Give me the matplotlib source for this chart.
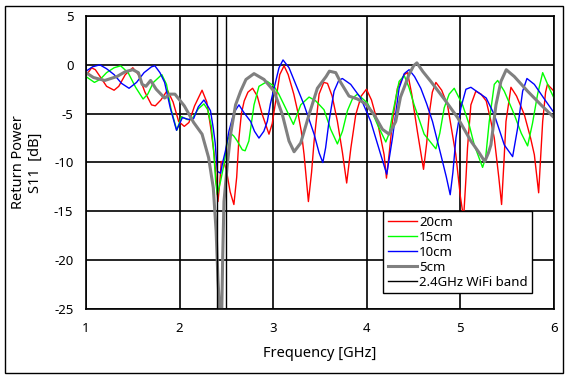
import matplotlib
matplotlib.use("Agg")
import matplotlib.pyplot as plt
from matplotlib.patches import Rectangle

plt.rcParams['font.family'] = ['Noto Sans', 'DejaVu Sans']

f_20 = [1.00, 1.06, 1.10, 1.15, 1.22, 1.30, 1.35, 1.42, 1.50, 1.56, 1.63, 1.70, 1.74, 1.80, 1.87, 1.93,
        1.99, 2.05, 2.10, 2.16, 2.24, 2.29, 2.33, 2.37, 2.395, 2.41, 2.43, 2.445, 2.47, 2.50, 2.54, 2.58,
        2.61, 2.634, 2.66, 2.69, 2.73, 2.78, 2.83, 2.88, 2.955, 2.99, 3.03, 3.07, 3.116, 3.16, 3.22, 3.26,
        3.30, 3.33, 3.376, 3.41, 3.437, 3.49, 3.54, 3.58, 3.63, 3.686, 3.74, 3.785, 3.83, 3.882, 3.94, 3.996,
        4.05, 4.113, 4.185, 4.21, 4.24, 4.274, 4.327, 4.40, 4.435, 4.48, 4.54, 4.606, 4.64, 4.666, 4.70, 4.738,
        4.80, 4.862, 4.951, 5.00, 5.034, 5.06, 5.076, 5.112, 5.165, 5.22, 5.276, 5.32, 5.362, 5.41, 5.44, 5.465,
        5.487, 5.54, 5.60, 5.683, 5.75, 5.79, 5.836, 5.86, 5.879, 5.91, 5.93, 6.00]
s_20 = [-1.1, -0.3, -0.5, -1.2, -2.2, -2.6, -2.2, -1.0, -0.3, -1.0, -2.8, -4.1, -4.2, -3.6, -2.6, -3.8,
        -5.8, -6.3, -5.9, -4.2, -2.6, -3.8, -6.3, -9.2, -12.3, -14.0, -12.0, -9.9, -9.9, -10.8, -13.0, -14.3,
        -11.5, -7.5, -5.0, -3.7, -2.8, -2.4, -3.2, -5.0, -7.1, -6.0, -3.5, -1.0, -0.1, -1.0, -3.0, -4.7,
        -6.8, -9.2, -14.0, -11.0, -7.8, -3.0, -1.8, -1.9, -3.2, -5.8, -9.0, -12.1, -8.5, -5.1, -3.2, -2.5,
        -3.6, -5.8, -9.2, -11.6, -9.0, -5.8, -2.4, -1.0, -0.8, -3.0, -6.8, -10.7, -8.0, -5.1, -2.8, -1.8,
        -2.6, -4.1, -9.2, -13.5, -15.7, -11.5, -8.5, -4.1, -2.7, -3.0, -3.7, -5.5, -7.5, -11.5, -14.3, -10.0,
        -5.8, -2.3, -3.2, -5.1, -7.5, -9.2, -13.1, -9.0, -5.8, -2.8, -2.0, -2.7]

f_15 = [1.00, 1.09, 1.15, 1.22, 1.30, 1.37, 1.45, 1.53, 1.61, 1.66, 1.72, 1.81, 1.86, 1.91, 1.97, 2.02,
        2.08, 2.13, 2.20, 2.26, 2.30, 2.34, 2.365, 2.385, 2.403, 2.438, 2.474, 2.51, 2.545, 2.58, 2.616, 2.67,
        2.70, 2.74, 2.795, 2.848, 2.937, 3.009, 3.06, 3.116, 3.216, 3.294, 3.383, 3.455, 3.543, 3.614, 3.686, 3.74,
        3.793, 3.85, 3.90, 4.006, 4.06, 4.113, 4.203, 4.24, 4.274, 4.345, 4.40, 4.45, 4.506, 4.613, 4.738, 4.78,
        4.827, 4.88, 4.934, 5.023, 5.09, 5.148, 5.237, 5.27, 5.308, 5.362, 5.398, 5.469, 5.576, 5.65, 5.718, 5.77,
        5.825, 5.879, 5.95, 6.00]
s_15 = [-1.2, -1.8, -1.5, -0.8, -0.3, -0.1, -0.8, -2.3, -3.5, -3.0, -1.8, -1.0, -2.0, -4.6, -6.7, -5.3,
        -5.6, -5.6, -4.5, -4.0, -4.6, -6.3, -9.0, -11.9, -13.3, -11.9, -10.2, -7.8, -7.0, -7.3, -7.8, -8.7,
        -8.8, -7.8, -4.1, -2.2, -1.7, -2.2, -3.0, -4.1, -6.1, -4.1, -3.3, -3.7, -4.6, -6.6, -8.1, -6.8,
        -4.7, -3.4, -3.0, -3.9, -4.9, -6.1, -7.9, -7.0, -5.1, -1.7, -1.1, -2.3, -4.1, -7.1, -8.6, -7.0,
        -4.4, -3.0, -2.4, -4.1, -6.0, -8.2, -10.5, -9.5, -5.8, -2.0, -1.6, -2.7, -5.1, -7.0, -8.3, -6.0,
        -3.0, -0.8, -2.4, -3.4]

f_10 = [1.00, 1.07, 1.148, 1.22, 1.30, 1.38, 1.46, 1.54, 1.62, 1.70, 1.736, 1.79, 1.84, 1.90, 1.967, 2.03,
        2.10, 2.15, 2.20, 2.26, 2.30, 2.33, 2.36, 2.38, 2.403, 2.438, 2.46, 2.49, 2.527, 2.58, 2.634, 2.688,
        2.759, 2.80, 2.848, 2.90, 2.937, 2.97, 3.009, 3.062, 3.105, 3.169, 3.258, 3.33, 3.38, 3.437, 3.49, 3.53,
        3.56, 3.596, 3.65, 3.70, 3.739, 3.828, 3.935, 4.042, 4.149, 4.213, 4.274, 4.345, 4.40, 4.452, 4.51, 4.577,
        4.64, 4.702, 4.791, 4.85, 4.891, 4.92, 4.952, 5.005, 5.059, 5.112, 5.201, 5.276, 5.362, 5.469, 5.558, 5.611,
        5.665, 5.711, 5.79, 5.897, 6.00]
s_10 = [-0.65, -0.2, 0.0, -0.4, -1.0, -1.9, -2.4, -1.8, -0.8, -0.2, -0.1, -0.8, -1.8, -4.4, -6.7, -5.4,
        -5.6, -5.5, -4.3, -3.6, -4.2, -4.7, -6.5, -8.0, -10.9, -11.1, -10.0, -8.8, -6.8, -4.9, -4.1, -4.9,
        -5.8, -6.8, -7.5, -6.8, -5.8, -4.0, -2.4, -0.3, 0.5, -0.3, -2.4, -4.1, -5.5, -7.1, -9.0, -10.0,
        -8.5, -5.8, -2.7, -1.6, -1.4, -2.0, -3.4, -5.8, -9.2, -11.2, -7.5, -2.4, -0.9, -0.5, -1.2, -2.4,
        -4.0, -5.8, -9.2, -11.5, -13.3, -11.0, -7.5, -4.4, -2.5, -2.3, -2.9, -3.4, -5.1, -8.2, -9.4, -6.5,
        -2.7, -1.4, -2.0, -3.5, -4.9]

f_5 = [1.00, 1.08, 1.20, 1.33, 1.42, 1.50, 1.56, 1.60, 1.64, 1.69, 1.75, 1.84, 1.90, 1.95, 2.05, 2.15,
       2.24, 2.31, 2.36, 2.39, 2.41, 2.43, 2.45, 2.46, 2.474, 2.51, 2.545, 2.598, 2.652, 2.709, 2.795, 2.902,
       3.009, 3.098, 3.169, 3.223, 3.294, 3.383, 3.472, 3.565, 3.60, 3.668, 3.721, 3.81, 3.90, 3.989, 4.078, 4.167,
       4.238, 4.309, 4.36, 4.40, 4.45, 4.50, 4.535, 4.60, 4.684, 4.827, 4.97, 5.112, 5.20, 5.26, 5.30, 5.326,
       5.38, 5.433, 5.49, 5.576, 5.718, 5.861, 6.00]
s_5 = [-0.8, -1.3, -1.6, -1.2, -0.7, -0.5, -0.8, -2.0, -2.2, -1.6, -2.5, -3.4, -3.0, -3.0, -4.2, -5.9,
       -7.1, -9.5, -12.6, -17.0, -22.0, -25.5, -25.5, -19.9, -14.0, -10.2, -7.1, -4.1, -2.7, -1.5, -0.9, -1.5,
       -2.7, -5.1, -7.8, -8.9, -8.0, -5.1, -2.4, -1.2, -0.65, -0.8, -1.8, -3.2, -3.5, -4.0, -5.1, -6.6,
       -7.1, -5.8, -3.3, -2.3, -1.0, -0.1, 0.2, -0.7, -1.7, -3.5, -5.4, -7.8, -9.0, -9.9, -9.0, -8.2,
       -4.1, -1.7, -0.5, -1.2, -2.7, -4.1, -5.4]

wifi_band = [2.4, 2.5]

x_ticks = [1, 2, 3, 4, 5, 6]
y_ticks = [5, 0, -5, -10, -15, -20, -25]

fig = plt.figure(figsize=(5.68, 3.79), dpi=100)
ax = fig.add_axes([86/568, 1 - 309/379, 468/568, 293/379])

ax.plot(f_20, s_20, color='#FF0000', lw=1.0, label='20cm')
ax.plot(f_15, s_15, color='#00FF00', lw=1.0, label='15cm')
ax.plot(f_10, s_10, color='#0000FF', lw=1.0, label='10cm')
ax.plot(f_5, s_5, color='#808080', lw=2.2, label='5cm')
for i, w in enumerate(wifi_band):
    ax.axvline(w, color='black', lw=1.0, label='2.4GHz WiFi band' if i == 0 else None)

ax.set_xlim(1, 6)
ax.set_ylim(-25, 5)
ax.set_xticks(x_ticks)
ax.set_yticks(y_ticks)
ax.set_xticklabels([str(t) for t in x_ticks])
ax.set_yticklabels([str(t).replace('\u2212', '-') for t in y_ticks])
ax.grid(True, color='black', lw=1.2)
ax.set_axisbelow(True)
ax.tick_params(length=0, labelsize=9.5, pad=9)
for s in ax.spines.values():
    s.set_linewidth(1.2)

ax.set_xlabel('Frequency [GHz]', fontsize=10.5, labelpad=8)
ax.set_ylabel('Return Power\nS11  [dB]', fontsize=10.5, labelpad=8)

leg = ax.legend(loc='lower right', bbox_to_anchor=(0.968, 0.031), fontsize=9.5,
                frameon=True, fancybox=False, framealpha=1, edgecolor='black',
                labelspacing=0.15, handlelength=2.2, handletextpad=0.2, borderpad=0.35)
leg.get_frame().set_linewidth(1.0)

fig.patches.append(Rectangle((5/568, 6/379), 558/568, 367/379, transform=fig.transFigure,
                             fill=False, edgecolor='black', lw=1.0))

fig.savefig('out.png', dpi=100)
